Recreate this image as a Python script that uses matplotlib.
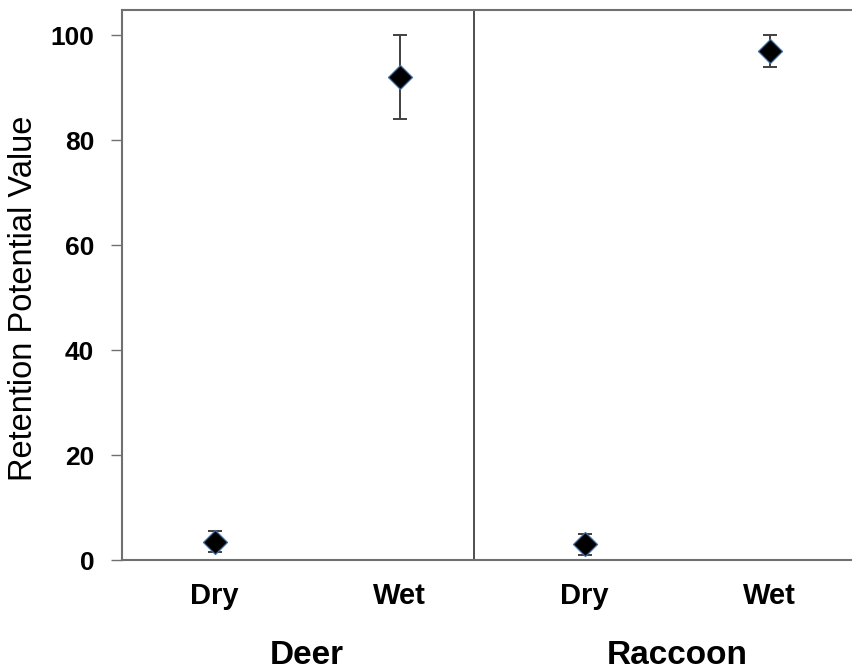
import numpy as np
import matplotlib.pyplot as plt

plt.rcParams['font.family'] = ['Liberation Sans', 'DejaVu Sans']

# data
groups = ['Deer', 'Raccoon']
conditions = ['Dry', 'Wet']
means = [3.5, 92, 3.0, 97]
errors = [2.0, 8.0, 2.0, 3.0]
yticks = [0, 20, 40, 60, 80, 100]

x = np.arange(len(means))

fig = plt.figure(figsize=(8.53, 6.71), dpi=100)
ax = fig.add_axes([0.143, 0.1654, 0.857, 0.8196])

ax.errorbar(x, means, yerr=errors, fmt='none', ecolor='#404040',
            elinewidth=1.4, capsize=4.8, capthick=1.4, zorder=2)
ax.scatter(x, means, marker='D', s=150, color='black',
           edgecolors='#3b6fb0', linewidths=0.9, zorder=3)

# divider between groups
ax.axvline(1.4, color='#404040', lw=1.3)

ax.set_xlim(-0.5, 3.45)
ax.set_ylim(0, 104.8)
ax.set_yticks(yticks)
ax.set_yticklabels([str(t) for t in yticks], fontsize=19, fontweight='bold')
ax.set_xticks(x)
ax.set_xticklabels(conditions * 2, fontsize=21, fontweight='bold')
ax.tick_params(axis='x', length=0, pad=16)
ax.tick_params(axis='y', length=8, width=1, color='#707070', pad=12)

for s in ['left', 'bottom', 'top']:
    ax.spines[s].set_color('#707070')
    ax.spines[s].set_linewidth(1.5)
ax.spines['right'].set_visible(False)

ax.set_ylabel('Retention Potential Value', fontsize=23.5)
ax.yaxis.set_label_coords(-0.113, 0.475)

for i, g in enumerate(groups):
    ax.text(2 * i + 0.5, -0.174, g, transform=ax.get_xaxis_transform(),
            ha='center', va='center', fontsize=24, fontweight='bold')

fig.savefig('out.png', dpi=100)
